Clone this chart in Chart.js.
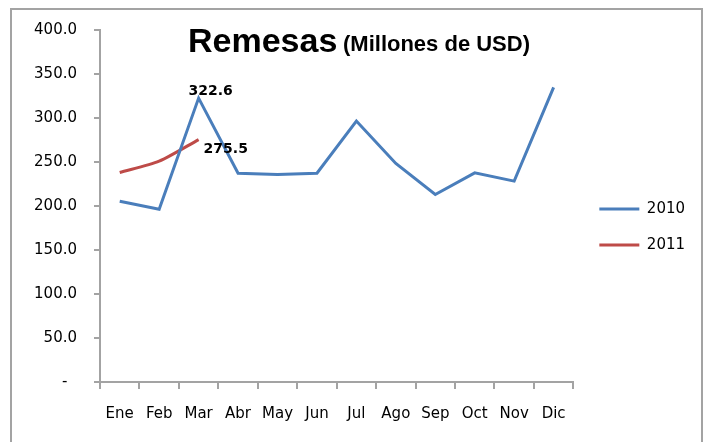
<!DOCTYPE html>
<html>
<head>
<meta charset="utf-8">
<script src="https://cdn.jsdelivr.net/npm/chart.js@4.4.0/dist/chart.umd.min.js"></script>
<style>
body { margin: 0; background: #fff; }
#wrap { position: relative; width: 707px; height: 442px; overflow: hidden; }
#frame { position: absolute; left: 10px; top: 8px; width: 693px; height: 500px; box-sizing: border-box; border: 2px solid #a3a3a3; }
.ttl { position: absolute; font-family: "Liberation Sans", Arial, sans-serif; font-weight: bold; color: #000; line-height: 1; white-space: nowrap; }
#t1 { left: 188px; top: 23px; font-size: 34px; }
#t2 { left: 343px; top: 33px; font-size: 22px; }
canvas { position: absolute; left: 0; top: 0; }
</style>
</head>
<body>
<div id="wrap">
  <div id="frame"></div>
  <canvas id="line-chart-area" width="707" height="442"></canvas>
  <div class="ttl" id="t1">Remesas</div>
  <div class="ttl" id="t2">(Millones de USD)</div>
</div>
<script>
var arrLabel = ['Ene', 'Feb', 'Mar', 'Abr', 'May', 'Jun', 'Jul', 'Ago', 'Sep', 'Oct', 'Nov', 'Dic'];
var arr2010 = [205.5, 196.4, 322.6, 237.3, 235.8, 237.3, 296.5, 248.4, 213.1, 237.7, 228.3, 334.8];
var arr2011 = [238.1, 251.0, 275.5];
var arrSeries = ['2010', '2011'];
var yTicks = [0, 50, 100, 150, 200, 250, 300, 350, 400];
// only the March points carry a value label
var labeledPoint = 2;

var blue = '#4a7ebb';
var red = '#be4b48';
var axisColor = '#a3a3a3';
var tickFont = { family: 'DejaVu Sans', size: 15 };

function formatTick(v) {
    if (v === 0) return '-  ';
    return v.toFixed(1);
}

// value labels next to the Mar points
var pointLabels = {
    id: 'pointLabels',
    afterDatasetsDraw: function (chart) {
        var ctx = chart.ctx;
        ctx.save();
        ctx.font = 'bold 14px "DejaVu Sans"';
        ctx.fillStyle = '#000';
        ctx.textBaseline = 'alphabetic';
        chart.data.datasets.forEach(function (ds, i) {
            var pt = chart.getDatasetMeta(i).data[labeledPoint];
            if (!pt) return;
            var txt = ds.data[labeledPoint].toFixed(1);
            if (i == 0) {
                ctx.textAlign = 'center';
                ctx.fillText(txt, pt.x + 12, pt.y - 3);
            } else {
                ctx.textAlign = 'left';
                ctx.fillText(txt, pt.x + 5, pt.y + 13);
            }
        });
        ctx.restore();
    }
};

function renderLine() {
    var configLine = {
        type: 'line',
        data: {
            labels: arrLabel,
            datasets: [{
                label: arrSeries[0],
                data: arr2010,
                borderColor: blue,
                backgroundColor: blue,
                borderWidth: 3,
                pointRadius: 0,
                tension: 0
            }, {
                label: arrSeries[1],
                data: arr2011,
                borderColor: red,
                backgroundColor: red,
                borderWidth: 3,
                pointRadius: 0,
                tension: 0.25
            }]
        },
        options: {
            responsive: false,
            animation: false,
            layout: { padding: { top: 30, bottom: 18, left: 0, right: 13 } },
            plugins: {
                title: { display: false },
                tooltip: { enabled: false },
                legend: {
                    position: 'right',
                    align: 'center',
                    labels: {
                        font: tickFont,
                        color: '#000',
                        boxWidth: 40,
                        boxHeight: 3,
                        padding: 21,
                        generateLabels: function (chart) {
                            var items = Chart.defaults.plugins.legend.labels.generateLabels(chart);
                            items.forEach(function (it) { it.lineWidth = 0; });
                            return items;
                        }
                    }
                }
            },
            scales: {
                x: {
                    offset: true,
                    grid: { offset: true, drawOnChartArea: false, drawTicks: true, tickLength: 7, lineWidth: 2, color: axisColor },
                    border: { color: axisColor, width: 2 },
                    ticks: { font: tickFont, color: '#000', padding: 16, maxRotation: 0, autoSkip: false },
                    afterFit: function (s) { s.height = 42; }
                },
                y: {
                    min: 0,
                    max: 400,
                    afterBuildTicks: function (s) {
                        s.ticks = yTicks.map(function (v) { return { value: v }; });
                    },
                    grid: { drawOnChartArea: false, drawTicks: true, tickLength: 6, lineWidth: 2, color: axisColor },
                    border: { color: axisColor, width: 2 },
                    ticks: { font: tickFont, color: '#000', padding: 17, callback: formatTick },
                    afterFit: function (s) { s.width = 100; }
                },
                spacer: {
                    position: 'right',
                    display: true,
                    grid: { display: false },
                    border: { display: false },
                    ticks: { display: false },
                    afterFit: function (s) { s.width = 5; }
                }
            }
        },
        plugins: [pointLabels]
    };
    var myChartLine = document.getElementById("line-chart-area").getContext("2d");
    var myLine = new Chart(myChartLine, configLine);
}

renderLine();
</script>
</body>
</html>
